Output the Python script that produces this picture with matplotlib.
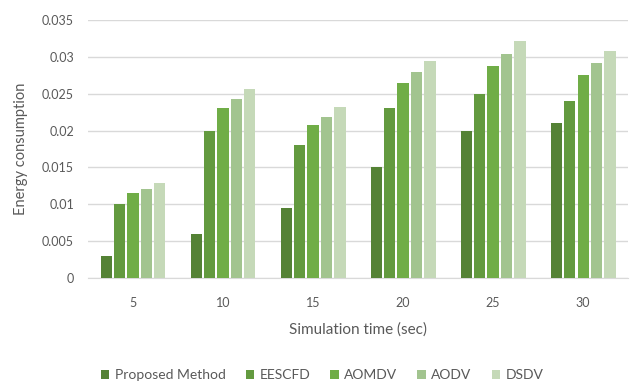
import matplotlib
matplotlib.use("Agg")
import matplotlib.pyplot as plt
import numpy as np

categories = ["5", "10", "15", "20", "25", "30"]
series_names = ["Proposed Method", "EESCFD", "AOMDV", "AODV", "DSDV"]
proposed = [0.003, 0.006, 0.0095, 0.015, 0.020, 0.021]
eescfd = [0.010, 0.020, 0.018, 0.023, 0.025, 0.024]
aomdv = [0.0115, 0.023, 0.0207, 0.0264, 0.0287, 0.0276]
aodv = [0.0121, 0.0243, 0.0219, 0.0279, 0.0304, 0.0292]
dsdv = [0.0129, 0.0257, 0.0232, 0.0295, 0.0322, 0.0308]
yticks = [0, 0.005, 0.01, 0.015, 0.02, 0.025, 0.03, 0.035]
ytick_labels = ["0", "0.005", "0.01", "0.015", "0.02", "0.025", "0.03", "0.035"]
colors = ["#548235", "#639a3f", "#70ad47", "#a2c48f", "#c5d9b8"]

plt.rcParams['font.family'] = ['Lato', 'DejaVu Sans']
fig = plt.figure(figsize=(6.34, 3.85), dpi=100)
ax = fig.add_axes([0.1388, 0.278, 0.852, 0.670])

data = [proposed, eescfd, aomdv, aodv, dsdv]
x = np.arange(len(categories))
slot = 0.149
bw = 0.125
for i, (name, vals) in enumerate(zip(series_names, data)):
    ax.bar(x + (i - 2) * slot, vals, width=bw, color=colors[i], label=name, zorder=3)

ax.set_xlim(-0.5, len(categories) - 0.5)
ax.set_ylim(0, 0.035)
ax.set_yticks(yticks)
ax.set_yticklabels(ytick_labels)
ax.set_xticks(x)
ax.set_xticklabels(categories)
ax.yaxis.grid(True, color="#d9d9d9", linewidth=1, zorder=0)
for s in ["top", "right", "left"]:
    ax.spines[s].set_visible(False)
ax.spines["bottom"].set_color("#d9d9d9")
ax.tick_params(axis="both", length=0, colors="#595959", labelsize=9)
ax.tick_params(axis="y", pad=10)
ax.tick_params(axis="x", pad=14)
ax.set_xlabel("Simulation time (sec)", fontsize=11, color="#595959", labelpad=9)
ax.set_ylabel("Energy consumption", fontsize=10.5, color="#595959", labelpad=10)

fig.legend(loc="center", bbox_to_anchor=(0.508, 0.025), ncol=5, frameon=False,
           fontsize=10, labelcolor="#595959", handlelength=0.6, handleheight=0.6,
           columnspacing=1.45, handletextpad=0.4)

fig.savefig("out.png", dpi=100)
